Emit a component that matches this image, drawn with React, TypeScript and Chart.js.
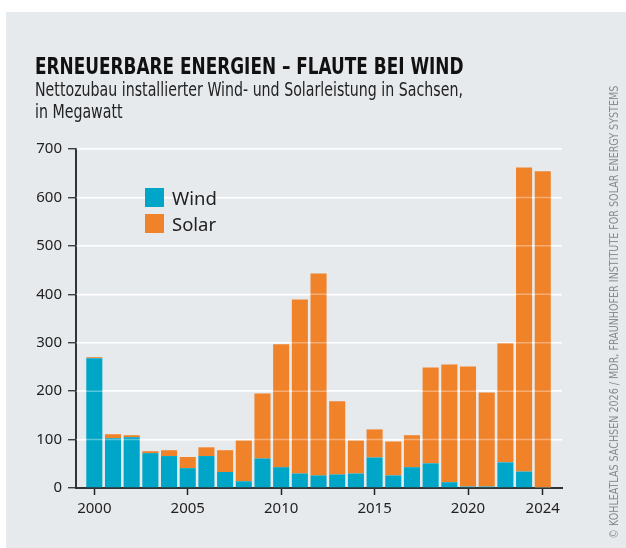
import React, { useEffect, useRef } from "react";
import { Chart, registerables } from "chart.js";

Chart.register(...registerables);

const years = [2000, 2001, 2002, 2003, 2004, 2005, 2006, 2007, 2008, 2009, 2010, 2011, 2012, 2013, 2014, 2015, 2016, 2017, 2018, 2019, 2020, 2021, 2022, 2023, 2024];
const wind = [268, 103, 105, 72, 66, 41, 66, 33, 14, 61, 43, 30, 26, 28, 30, 63, 26, 43, 51, 12, 3, 3, 53, 34, 1];
const solar = [2, 8, 4, 4, 12, 23, 18, 45, 84, 134, 254, 359, 417, 151, 68, 58, 70, 66, 198, 243, 248, 194, 246, 628, 653];
const xTicks = [2000, 2005, 2010, 2015, 2020, 2024];
const yTicks = [0, 100, 200, 300, 400, 500, 600, 700];
const seriesNames = ["Wind", "Solar"];
const seriesColors = ["#00a6c7", "#f0822a"];

const title = "ERNEUERBARE ENERGIEN – FLAUTE BEI WIND";
const subtitle1 = "Nettozubau installierter Wind- und Solarleistung in Sachsen,";
const subtitle2 = "in Megawatt";
const credit = "© KOHLEATLAS SACHSEN 2026 / MDR, FRAUNHOFER INSTITUTE FOR SOLAR ENERGY SYSTEMS";

const condensed = '"Liberation Sans Narrow", "DejaVu Sans Condensed", "Arial Narrow", sans-serif';
const regular = '"Noto Sans", "Open Sans", sans-serif';

const overlayGrid = {
  id: "overlayGrid",
  afterDatasetsDraw(chart: any) {
    const { ctx, chartArea, scales } = chart;
    const y = scales.y;
    ctx.save();
    ctx.strokeStyle = "rgba(255,255,255,0.35)";
    ctx.lineWidth = 1.5;
    yTicks.forEach((t) => {
      if (t === 0) return;
      const py = y.getPixelForValue(t);
      ctx.beginPath();
      ctx.moveTo(chartArea.left, py);
      ctx.lineTo(chartArea.right, py);
      ctx.stroke();
    });
    ctx.restore();
  },
};

export default function App() {
  const ref = useRef<HTMLCanvasElement | null>(null);

  useEffect(() => {
    if (!ref.current) return;
    const chart = new Chart(ref.current, {
      type: "bar",
      data: {
        datasets: [
          {
            label: seriesNames[0],
            data: years.map((y, i) => ({ x: y, y: wind[i] })),
            backgroundColor: seriesColors[0],
            borderWidth: 0,
          },
          {
            label: seriesNames[1],
            data: years.map((y, i) => ({ x: y, y: solar[i] })),
            backgroundColor: seriesColors[1],
            borderWidth: 0,
          },
        ],
      },
      options: {
        animation: false,
        responsive: false,
        maintainAspectRatio: false,
        layout: { padding: { left: 30, right: 64, top: 149, bottom: 20 } },
        plugins: { legend: { display: false }, tooltip: { enabled: false } },
        datasets: { bar: { categoryPercentage: 1, barPercentage: 0.86 } },
        scales: {
          x: {
            type: "linear",
            stacked: true,
            offset: false,
            min: 1999.02,
            max: 2025.03,
            afterBuildTicks: (scale: any) => {
              scale.ticks = xTicks.map((v) => ({ value: v }));
            },
            afterFit: (scale: any) => {
              scale.height = 40;
            },
            ticks: {
              autoSkip: false,
              maxRotation: 0,
              color: "#222",
              font: { family: regular, size: 15 },
              padding: 5,
              callback: (v: any) => String(v),
            },
            grid: {
              offset: false,
              drawOnChartArea: false,
              drawTicks: true,
              tickLength: 7,
              tickColor: "#222",
              tickWidth: 1.5,
            },
            border: { display: true, color: "#333", width: 2 },
          },
          y: {
            stacked: true,
            min: 0,
            max: 700,
            afterBuildTicks: (scale: any) => {
              scale.ticks = yTicks.map((v) => ({ value: v }));
            },
            afterFit: (scale: any) => {
              scale.width = 46;
            },
            ticks: {
              color: "#222",
              font: { family: regular, size: 15 },
              padding: 6,
              callback: (v: any) => String(v),
            },
            grid: {
              color: "#ffffff",
              lineWidth: 1.5,
              drawTicks: true,
              tickLength: 8,
              tickColor: "#222",
              tickWidth: 1.2,
            },
            border: { display: true, color: "#333", width: 2 },
          },
        },
      },
      plugins: [overlayGrid],
    } as any);
    return () => chart.destroy();
  }, []);

  return (
    <div style={{ position: "absolute", left: 0, top: 0, width: 626, height: 548, overflow: "hidden" }}>
      <div style={{ position: "absolute", left: 6, top: 12, width: 620, height: 536, background: "#e7eaed" }} />
      <canvas ref={ref} width={626} height={548} style={{ position: "absolute", left: 0, top: 0, width: 626, height: 548 }} />
      <div style={{ position: "absolute", left: 35, top: 53, fontFamily: condensed, fontWeight: 700, fontSize: 22.5, lineHeight: "26px", color: "#111", whiteSpace: "nowrap", transform: "scaleX(0.835)", transformOrigin: "left center" }}>
        {title}
      </div>
      <div style={{ position: "absolute", left: 35, top: 79, fontFamily: condensed, fontSize: 19, lineHeight: "21.5px", color: "#222", whiteSpace: "nowrap", transform: "scaleX(0.83)", transformOrigin: "left top" }}>
        <div>{subtitle1}</div>
        <div>{subtitle2}</div>
      </div>
      {seriesNames.map((name, i) => (
        <div key={name} style={{ position: "absolute", left: 145, top: 188 + i * 26, height: 19, display: "flex", alignItems: "center" }}>
          <div style={{ width: 19, height: 19, background: seriesColors[i] }} />
          <div style={{ marginLeft: 8, fontFamily: regular, fontSize: 18.5, lineHeight: "19px", color: "#222" }}>{name}</div>
        </div>
      ))}
      <div style={{ position: "absolute", left: 354, top: 305, width: 520, height: 14, transform: "rotate(-90deg)", transformOrigin: "center", fontFamily: condensed, fontSize: 11.5, lineHeight: "14px", color: "#8a8a8a", whiteSpace: "nowrap", textAlign: "center" }}>
        <span style={{ display: "inline-block", transform: "scaleX(0.925)" }}>{credit}</span>
      </div>
    </div>
  );
}
